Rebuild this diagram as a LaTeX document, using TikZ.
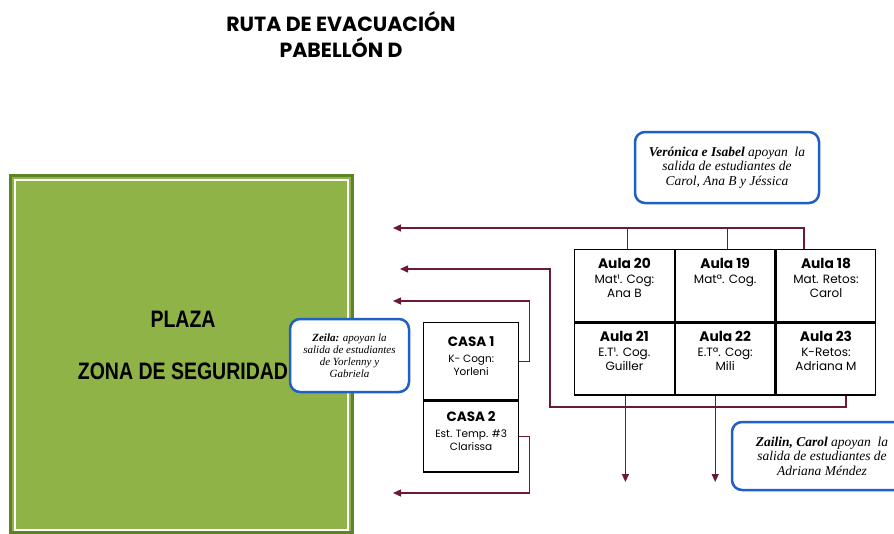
\documentclass[tikz,border=0pt]{standalone}
\usepackage{fontspec}
\setmainfont{Liberation Serif}
\newfontfamily\gothic{Poppins}
\newfontfamily\heavysans{Liberation Sans}
\usetikzlibrary{arrows.meta}
\definecolor{plazagreen}{RGB}{143,179,71}
\definecolor{plazaedge}{RGB}{92,132,38}
\definecolor{routec}{RGB}{110,25,50}
\definecolor{calloutblue}{RGB}{30,95,200}
\newcommand{\aulatxt}[3]{\parbox[c][72pt][t]{98pt}{\centering\fontsize{12}{14.5}\selectfont\rule{0pt}{19pt}{\fontsize{13.8}{14.5}\selectfont\bfseries #1}\\#2\\#3}}
\newcommand{\casatxt}[3]{\parbox[c][70pt][t]{93pt}{\centering\fontsize{10.5}{13}\selectfont\rule{0pt}{20pt}{\fontsize{13.5}{13}\selectfont\bfseries #1}\\\rule{0pt}{15pt}#2\\#3}}
\newcommand{\tallbold}[1]{\scalebox{1}[1.22]{#1}}
\begin{document}
\begin{tikzpicture}[x=1pt,y=-1pt,
  route/.style={draw=routec, line width=1.3pt},
  routearrow/.style={route, -{Triangle[length=8pt,width=7pt]}},
  aula/.style={draw=black, line width=1.3pt, minimum width=99.5pt, minimum height=72pt, inner sep=0pt, anchor=north west, font=\gothic},
  casa/.style={draw=black, line width=1.3pt, minimum width=95pt, inner sep=0pt, anchor=north west, font=\gothic},
  callout/.style={draw=calloutblue, line width=2.5pt, fill=white, rounded corners=10pt, inner sep=0pt, align=center},
  plazatext/.style={font=\heavysans\bfseries\fontsize{19.5}{22}\selectfont, text=black},
]
\useasboundingbox (0,0) rectangle (894,533);

% title
\node[font=\gothic\bfseries\fontsize{20.5}{26}\selectfont, align=center] (title) at (341,35) {RUTA DE EVACUACIÓN\\PABELLÓN D};

% plaza
\node[draw=plazaedge, line width=2.5pt, fill=plazagreen, minimum width=342pt, minimum height=357pt, inner sep=0pt] (plaza) at (181.5,354) {};
\draw[white, line width=1.6pt] ([shift={(6,6)}]plaza.north west) rectangle ([shift={(-6,-4)}]plaza.south east);
\node[plazatext] (plazalbl) at (183,319) {\tallbold{PLAZA}};
\node[plazatext] (zona) at (183,371) {\tallbold{ZONA DE SEGURIDAD}};

% aulas
\node[aula] (aula20) at (574,249) {\aulatxt{Aula 20}{Mat¹. Cog:}{Ana B}};
\node[aula] (aula19) at (aula20.north east) {\aulatxt{Aula 19}{Matª. Cog.}{}};
\node[aula] (aula18) at (aula19.north east) {\aulatxt{Aula 18}{Mat. Retos:}{Carol}};
\node[aula] (aula21) at (aula20.south west) {\aulatxt{Aula 21}{E.T¹. Cog.}{Guiller}};
\node[aula] (aula22) at (aula21.north east) {\aulatxt{Aula 22}{E.Tª. Cog:}{Mili}};
\node[aula] (aula23) at (aula22.north east) {\aulatxt{Aula 23}{K-Retos:}{Adriana M}};

% casas
\node[casa, minimum height=77pt] (casa1) at (423,322) {\casatxt{CASA 1}{K- Cogn:}{Yorleni}};
\node[casa, minimum height=71pt] (casa2) at (casa1.south west) {\casatxt{CASA 2}{Est. Temp. \#3}{Clarissa}};

% routes
\coordinate (tip1) at (393,228);
\coordinate (tip2) at (400,269);
\coordinate (tip3) at (393,301);
\coordinate (tip4) at (393,493);
\coordinate (bend2) at (550,407);
\coordinate (downlvl) at (0,482);
\coordinate (j18) at ([xshift=-22pt]aula18.north);
\coordinate (j20) at ([xshift=3pt]aula20.north);
\coordinate (j19) at ([xshift=2pt]aula19.north);
\coordinate (j23) at ([xshift=20pt]aula23.south);
\coordinate (j21) at ([xshift=1pt]aula21.south);
\coordinate (j22) at ([xshift=-10pt]aula22.south);

\draw[routearrow] (j18) |- (tip1);
\draw[route] (j20) -- (j20 |- tip1);
\draw[route] (j19) -- (j19 |- tip1);
\draw[routearrow] (j23) |- (bend2) |- (tip2);
\draw[routearrow] (casa1.east) -- ++(10,0) |- (tip3);
\draw[routearrow] (casa2.east) -- ++(10,0) |- (tip4);
\draw[routearrow] (j21) -- (j21 |- downlvl);
\draw[routearrow] (j22) -- (j22 |- downlvl);

% callouts
\node[callout, minimum width=184pt, minimum height=71pt, font=\itshape\fontsize{13.5}{14.5}\selectfont] (veronica) at (727,167.5) {\textbf{Verónica e Isabel} apoyan\ \ la\\salida de estudiantes de\\Carol, Ana B y Jéssica};
\node[callout, minimum width=119pt, minimum height=73pt, font=\itshape\fontsize{11}{12}\selectfont] (zeila) at (349.5,355.5) {\textbf{Zeila:} apoyan la\\salida de estudiantes\\de Yorlenny y\\Gabriela};
\node[callout, minimum width=180pt, minimum height=68pt, font=\itshape\fontsize{13.5}{14.5}\selectfont] (zailin) at (822,456) {\textbf{Zailin, Carol} apoyan\ \ la\\salida de estudiantes de\\Adriana Méndez};
\end{tikzpicture}
\end{document}
